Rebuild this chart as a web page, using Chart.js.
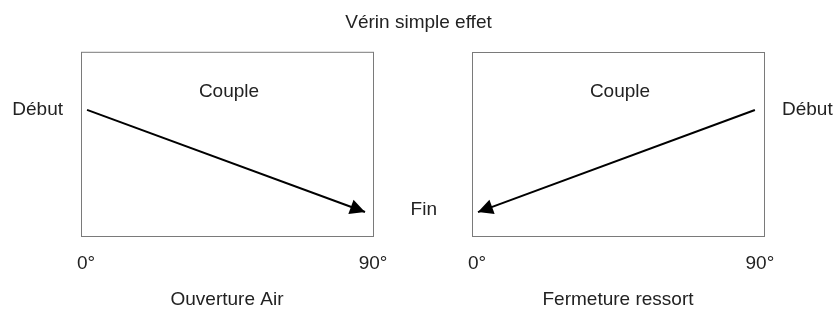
<!DOCTYPE html>
<html>
<head>
<meta charset="utf-8">
<script src="https://cdn.jsdelivr.net/npm/chart.js@4/dist/chart.umd.min.js"></script>
<style>
  html, body { margin: 0; padding: 0; background: #fff; }
  #wrap { position: relative; width: 837px; height: 311px; }
  #wrap canvas { position: absolute; left: 0; top: 0; }
</style>
</head>
<body>
<div id="wrap">
  <canvas id="left" width="837" height="311"></canvas>
  <canvas id="right" width="837" height="311"></canvas>
</div>
<script>
// Vérin simple effet — couple vs angle, two panels.

const TITLE = 'Vérin simple effet';
const SERIES_LABEL = 'Couple';

// angle ticks (degrees)
const X_TICKS = [0, 90];

// couple levels (arbitrary 0..100 scale)
const Y_DEBUT = 68.5;
const Y_FIN = 13;
const Y_FIN_LABEL = 14.5;

// left panel: ouverture air, 0° -> 90°
const LEFT_NAME = 'Ouverture Air';
const LEFT_X = [0.3, 87.5];
const LEFT_Y = [Y_DEBUT, Y_FIN];

// right panel: fermeture ressort, 90° -> 0°
const RIGHT_NAME = 'Fermeture ressort';
const RIGHT_X = [88.4, 0.3];
const RIGHT_Y = [Y_DEBUT, Y_FIN];

const FONT = { family: '"Liberation Sans", Arial, sans-serif', size: 19 };
const TEXT = '#222';
const FRAME = '#7a7a7a';

Chart.defaults.font.family = FONT.family;
Chart.defaults.font.size = FONT.size;
Chart.defaults.color = TEXT;

// frame around plot area + "Couple" label + arrow head at the last point
const panelDeco = {
  id: 'panelDeco',
  afterDatasetsDraw(chart) {
    const { ctx, chartArea: a } = chart;
    ctx.save();
    ctx.strokeStyle = FRAME;
    ctx.lineWidth = 1;
    ctx.strokeRect(a.left + 0.5, a.top + 0.5, a.right - a.left, a.bottom - a.top);

    ctx.fillStyle = TEXT;
    ctx.font = `${FONT.size}px ${FONT.family}`;
    ctx.textAlign = 'center';
    ctx.textBaseline = 'middle';
    ctx.fillText(SERIES_LABEL, (a.left + a.right) / 2 + 2, a.top + 40);

    const pts = chart.getDatasetMeta(0).data;
    const p0 = pts[pts.length - 2], p1 = pts[pts.length - 1];
    const ang = Math.atan2(p1.y - p0.y, p1.x - p0.x);
    const L = 15, W = 7.5;
    const bx = p1.x - L * Math.cos(ang), by = p1.y - L * Math.sin(ang);
    const nx = -Math.sin(ang), ny = Math.cos(ang);
    ctx.fillStyle = '#000';
    ctx.beginPath();
    ctx.moveTo(p1.x, p1.y);
    ctx.lineTo(bx + W * nx, by + W * ny);
    ctx.lineTo(bx - W * nx, by - W * ny);
    ctx.closePath();
    ctx.fill();
    ctx.restore();
  }
};

function pts(xs, ys) {
  return xs.map((x, i) => ({ x, y: ys[i] }));
}

function lineDataset(xs, ys) {
  return {
    data: pts(xs, ys),
    borderColor: '#000',
    borderWidth: 2,
    pointRadius: 0,
    tension: 0,
  };
}

const noGrid = { display: false, drawTicks: false };
const noBorder = { display: false };

function xAxis(min, max, name) {
  return {
    type: 'linear',
    min, max,
    grid: noGrid,
    border: noBorder,
    afterBuildTicks: s => { s.ticks = X_TICKS.map(v => ({ value: v })); },
    afterFit: s => { s.height = 75; },
    ticks: {
      padding: 16,
      maxRotation: 0,
      autoSkip: false,
      callback: v => v + '°',
    },
    title: { display: true, text: name, padding: 0 },
  };
}

function yAxis(position, width, pad, tickVals, tickLabels) {
  return {
    type: 'linear',
    position,
    min: 0, max: 100,
    grid: noGrid,
    border: noBorder,
    afterBuildTicks: s => { s.ticks = tickVals.map(v => ({ value: v })); },
    afterFit: s => { s.width = width; },
    ticks: {
      display: tickVals.length > 0,
      padding: pad,
      callback: (v, i) => tickLabels[i],
    },
  };
}

const common = {
  type: 'line',
  options: {
    responsive: false,
    animation: false,
    events: [],
    plugins: { legend: { display: false }, tooltip: { enabled: false } },
  },
  plugins: [panelDeco],
};

new Chart(document.getElementById('left'), {
  ...common,
  data: { datasets: [lineDataset(LEFT_X, LEFT_Y)] },
  options: {
    ...common.options,
    layout: { padding: 0 },
    plugins: {
      ...common.options.plugins,
      title: {
        display: true,
        text: TITLE,
        font: { size: FONT.size, weight: 'normal' },
        color: TEXT,
        padding: { top: 11, bottom: 18 },
      },
    },
    scales: {
      x: xAxis(-1.6, 90, LEFT_NAME),
      y: yAxis('left', 81, 18, [Y_DEBUT], ['Début']),
      y2: yAxis('right', 837 - 373, 0, [], []),
    },
  },
});

new Chart(document.getElementById('right'), {
  ...common,
  data: { datasets: [lineDataset(RIGHT_X, RIGHT_Y)] },
  options: {
    ...common.options,
    layout: { padding: { top: 52 } },
    scales: {
      x: xAxis(-1.6, 91.3, RIGHT_NAME),
      y: yAxis('left', 472, 35, [Y_FIN_LABEL], ['Fin']),
      y2: yAxis('right', 837 - 764, 18, [Y_DEBUT], ['Début']),
    },
  },
});
</script>
</body>
</html>
